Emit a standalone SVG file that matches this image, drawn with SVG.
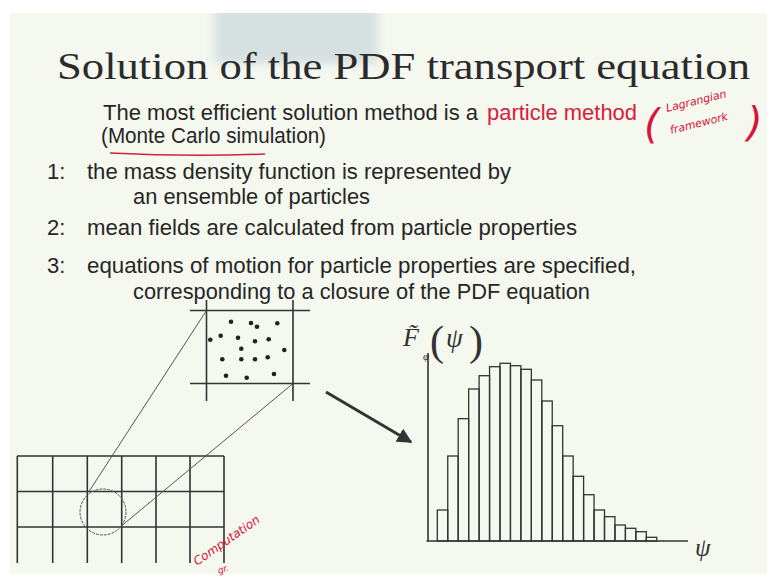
<svg xmlns="http://www.w3.org/2000/svg" width="767" height="578" viewBox="0 0 767 578">
<defs>
<filter id="blur" x="-20%" y="-30%" width="140%" height="160%"><feGaussianBlur stdDeviation="5"/></filter>
<style>
.ttl{font-family:"Liberation Serif","DejaVu Serif",serif;font-size:38px;fill:#2b2b2b}
.tx{font-family:"Liberation Sans","DejaVu Sans",sans-serif;font-size:22px;fill:#262626}
.red{fill:#d6203c}
.hw{font-family:"DejaVu Sans",sans-serif;font-style:italic;fill:#d8143a}
.ln{stroke:#333;stroke-width:1.6;fill:none}
.thin{stroke:#555;stroke-width:1;fill:none}
.bar{stroke:#333;stroke-width:1.3;fill:none}
.dot{fill:#222}
.math{font-family:"Liberation Serif","DejaVu Serif",serif;fill:#333}
</style>
<marker id="ah" viewBox="0 0 10 10" refX="9" refY="5" markerWidth="5" markerHeight="5" orient="auto"><path d="M0,0 L10,5 L0,10 z" fill="#333"/></marker>
</defs>
<rect width="767" height="578" fill="#ffffff"/>
<rect x="10" y="13" width="757" height="561" fill="#f5f8ef"/>
<rect x="214" y="6" width="164" height="58" fill="#d6e0e0" filter="url(#blur)"/>
<rect x="10" y="0" width="757" height="13" fill="#ffffff"/>

<g id="title"><text class="ttl" x="57" y="79" textLength="693" lengthAdjust="spacingAndGlyphs">Solution of the PDF transport equation</text></g>

<g id="intro">
<text class="tx" x="103" y="120" textLength="375" lengthAdjust="spacingAndGlyphs">The most efficient solution method is a</text>
<text class="tx red" x="487" y="120" textLength="150" lengthAdjust="spacingAndGlyphs">particle method</text>
<text class="tx" x="101" y="143" textLength="225" lengthAdjust="spacingAndGlyphs">(Monte Carlo simulation)</text>
<path d="M110,153 Q190,157 265,154" stroke="#d6203c" stroke-width="1.5" fill="none"/>
</g>

<g id="note-lagrangian">
<text class="hw" x="644" y="138" font-size="40" font-style="normal">(</text>
<text class="hw" x="667" y="112" font-size="11" transform="rotate(-14 667 112)">Lagrangian</text>
<text class="hw" x="671" y="134" font-size="11" transform="rotate(-14 671 134)">framework</text>
<text class="hw" x="747" y="136" font-size="40" font-style="normal">)</text>
</g>

<g id="items">
<text class="tx" x="47" y="179">1:</text>
<text class="tx" x="87" y="179" textLength="424" lengthAdjust="spacingAndGlyphs">the mass density function is represented by</text>
<text class="tx" x="133" y="204" textLength="237" lengthAdjust="spacingAndGlyphs">an ensemble of particles</text>
<text class="tx" x="47" y="235">2:</text>
<text class="tx" x="87" y="235" textLength="490" lengthAdjust="spacingAndGlyphs">mean fields are calculated from particle properties</text>
<text class="tx" x="47" y="273">3:</text>
<text class="tx" x="87" y="273" textLength="549" lengthAdjust="spacingAndGlyphs">equations of motion for particle properties are specified,</text>
<text class="tx" x="133" y="299" textLength="457" lengthAdjust="spacingAndGlyphs">corresponding to a closure of the PDF equation</text>
</g>

<g id="grid">
<path class="ln" d="M17,456H224M17,491.5H224M17,527H224M17.3,456V563M52.7,456V563M87.3,456V563M121.7,456V563M156,456V563M190,456V563M224,456V563"/>
<circle class="thin" cx="103" cy="512" r="23" stroke-dasharray="3 1"/>
</g>

<g id="zoom-cell">
<path class="ln" d="M190,310.5H310M190,383.5H310M206.5,300V401M293,300V401"/>
<g class="dot">
<circle cx="231" cy="321.7" r="2.3"/><circle cx="251" cy="323" r="2.3"/><circle cx="257" cy="326.7" r="2.3"/><circle cx="277.3" cy="323.3" r="2.3"/>
<circle cx="210.3" cy="339.7" r="2.3"/><circle cx="220.7" cy="335.7" r="2.3"/><circle cx="238" cy="337.7" r="2.3"/><circle cx="255" cy="341.3" r="2.3"/><circle cx="268.7" cy="339.3" r="2.3"/>
<circle cx="241.3" cy="348.7" r="2.3"/><circle cx="284.3" cy="350" r="2.3"/>
<circle cx="222.3" cy="359.3" r="2.3"/><circle cx="241.3" cy="359.3" r="2.3"/><circle cx="255" cy="359.3" r="2.3"/><circle cx="267.7" cy="357.3" r="2.3"/>
<circle cx="226" cy="375.7" r="2.3"/><circle cx="246.7" cy="377.7" r="2.3"/><circle cx="274" cy="374" r="2.3"/>
</g>
</g>

<g id="note-grid">
<text class="hw" x="197" y="566" font-size="12" transform="rotate(-35 197 566)">Computation</text>
<text class="hw" x="219" y="574" font-size="9" transform="rotate(-20 219 574)">gr.</text>
</g>

<g id="connectors">
<line class="thin" x1="89" y1="491.5" x2="206.5" y2="310.5"/>
<line class="thin" x1="122" y1="525.5" x2="293" y2="383.5"/>
<line x1="326" y1="392" x2="411" y2="442" stroke="#333" stroke-width="3" marker-end="url(#ah)"/>
</g>

<g id="histogram">
<path class="ln" d="M428,353V541M426.5,541H688"/>
<g class="bar">
<rect x="437.3" y="510" width="10.45" height="31"/>
<rect x="447.75" y="456" width="10.45" height="85"/>
<rect x="458.2" y="418.7" width="10.45" height="122.3"/>
<rect x="468.65" y="389" width="10.45" height="152"/>
<rect x="479.1" y="375.7" width="10.45" height="165.3"/>
<rect x="489.55" y="366.7" width="10.45" height="174.3"/>
<rect x="500" y="363.3" width="10.45" height="177.7"/>
<rect x="510.45" y="365.7" width="10.45" height="175.3"/>
<rect x="520.9" y="369.3" width="10.45" height="171.7"/>
<rect x="531.35" y="380" width="10.45" height="161"/>
<rect x="541.8" y="401" width="10.45" height="140"/>
<rect x="552.25" y="425.7" width="10.45" height="115.3"/>
<rect x="562.7" y="456" width="10.45" height="85"/>
<rect x="573.15" y="476.3" width="10.45" height="64.7"/>
<rect x="583.6" y="494.7" width="10.45" height="46.3"/>
<rect x="594.05" y="510" width="10.45" height="31"/>
<rect x="604.5" y="516.7" width="10.45" height="24.3"/>
<rect x="614.95" y="525" width="10.45" height="16"/>
<rect x="625.4" y="528.3" width="10.45" height="12.7"/>
<rect x="635.85" y="531.7" width="10.45" height="9.3"/>
<rect x="646.3" y="537.3" width="10.45" height="3.7"/>
</g>
<text class="math" x="403" y="346" font-size="26" font-style="italic">F&#x303;</text>
<text class="math" x="423" y="360" font-size="11" font-style="italic">φ</text>
<text class="math" x="430" y="355" font-size="42">(</text>
<text class="math" x="446" y="347" font-size="27" font-style="italic">ψ</text>
<text class="math" x="469" y="355" font-size="42">)</text>
<text class="math" x="695" y="556" font-size="25" font-style="italic">ψ</text>
</g>
</svg>
